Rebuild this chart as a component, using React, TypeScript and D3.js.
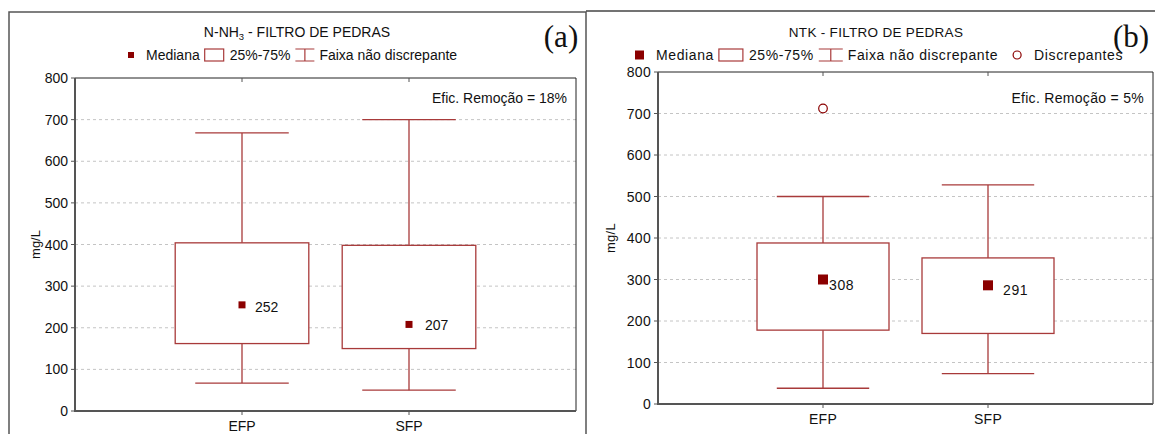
import * as d3 from "d3";

const categories = ["EFP", "SFP"];
const yTicks = [0, 100, 200, 300, 400, 500, 600, 700, 800];

// (a) N-NH3
const nh3Min = [67, 50];
const nh3Q1 = [162, 150];
const nh3Median = [255, 208];
const nh3MedianLabels = ["252", "207"];
const nh3Q3 = [404, 398];
const nh3Max = [668, 700];

// (b) NTK
const ntkMin = [38, 73];
const ntkQ1 = [178, 170];
const ntkMedian = [300, 286];
const ntkMedianLabels = ["308", "291"];
const ntkQ3 = [388, 352];
const ntkMax = [500, 528];
const ntkOutlierCats = ["EFP"];
const ntkOutlierValues = [712];

const RED = "#8b0000";
const BOX = "#a83a3a";
const FONT = "'Liberation Sans', Arial, sans-serif";

// rough Arial advance widths (em) for legend layout
const textWidth = (s: string, size: number, ls: number) => {
  const w: Record<string, number> = {
    M: 0.833, e: 0.556, d: 0.556, i: 0.222, a: 0.556, n: 0.556, "%": 0.889, "-": 0.333,
    F: 0.611, x: 0.5, " ": 0.278, "ã": 0.556, o: 0.556, s: 0.5, c: 0.5, r: 0.333, p: 0.556,
    t: 0.278, D: 0.722,
  };
  let sum = 0;
  for (const ch of s) sum += w[ch] ?? 0.556;
  return sum * size + ls * s.length;
};

type PanelProps = {
  left: number;
  right: number;
  top: number;
  bottom: number;
  spacing: number;
  fontSize: number;
  title: React.ReactNode;
  titleSize: number;
  titleSpacing: number;
  titleX: number;
  letter: string;
  letterX: number;
  efic: string;
  mins: number[];
  q1: number[];
  medians: number[];
  medianLabels: string[];
  labelDx: number[];
  labelDy: number[];
  q3: number[];
  maxs: number[];
  outlierCats?: string[];
  outlierValues?: number[];
  markerSize: number;
  legendX: number;
  iconW: number;
  showOutlierLegend?: boolean;
  yLabelX: number;
  xLabelY: number;
};

const Panel = (p: PanelProps) => {
  const x = d3.scaleLinear().domain([0, 3]).range([p.left, p.right]);
  const y = d3.scaleLinear().domain([0, 800]).range([p.bottom, p.top]);
  const pos = (c: string) => x(categories.indexOf(c) + 1);
  const boxHalf = (x(0.8) - x(0)) / 2;
  const capHalf = (x(0.56) - x(0)) / 2;
  const ls = p.spacing;
  const fs = p.fontSize;
  const ly = 55;
  const items: React.ReactNode[] = [];

  // legend
  let cx = p.legendX;
  items.push(
    <rect key="lm" x={cx} y={ly - p.markerSize / 2 + 0.5} width={p.markerSize - 1} height={p.markerSize - 1} fill={RED} />
  );
  cx += p.markerSize + 11;
  items.push(
    <text key="lmt" x={cx} y={ly} dominantBaseline="central" letterSpacing={ls}>
      Mediana
    </text>
  );
  cx += textWidth("Mediana", fs, ls) + 5;
  items.push(
    <rect key="lb" x={cx} y={ly - 6} width={p.iconW} height={12} fill="none" stroke={BOX} strokeWidth={1.2} />
  );
  cx += p.iconW + 6;
  items.push(
    <text key="lbt" x={cx} y={ly} dominantBaseline="central" letterSpacing={ls}>
      25%-75%
    </text>
  );
  cx += textWidth("25%-75%", fs, ls) + 5;
  items.push(
    <path
      key="lw"
      d={`M${cx},${ly - 6}H${cx + p.iconW}M${cx + p.iconW / 2},${ly - 6}V${ly + 6}M${cx},${ly + 6}H${cx + p.iconW}`}
      fill="none"
      stroke={BOX}
      strokeWidth={1.2}
    />
  );
  cx += p.iconW + 5;
  items.push(
    <text key="lwt" x={cx} y={ly} dominantBaseline="central" letterSpacing={ls}>
      Faixa não discrepante
    </text>
  );
  if (p.showOutlierLegend) {
    cx += textWidth("Faixa não discrepante", fs, ls) + 15;
    items.push(<circle key="lo" cx={cx + 4} cy={ly} r={4} fill="none" stroke={RED} strokeWidth={1.2} />);
    items.push(
      <text key="lot" x={cx + 21} y={ly} dominantBaseline="central" letterSpacing={ls}>
        Discrepantes
      </text>
    );
  }

  return (
    <g fontFamily={FONT} fontSize={fs} fill="#111">
      <text
        x={p.titleX}
        y={32}
        textAnchor="middle"
        dominantBaseline="central"
        letterSpacing={p.titleSpacing}
        fontSize={p.titleSize}
      >
        {p.title}
      </text>
      <text
        x={p.letterX}
        y={36}
        fontFamily="'Liberation Serif', 'Times New Roman', serif"
        fontSize={31}
        textAnchor="middle"
        dominantBaseline="central"
      >
        {p.letter}
      </text>
      {items}
      {/* grid */}
      {yTicks
        .filter((t) => t > 0 && t < 800)
        .map((t) => (
          <line key={`g${t}`} x1={p.left} x2={p.right} y1={y(t)} y2={y(t)} stroke="#c4c4c4" strokeDasharray="3,3" />
        ))}
      {/* frame */}
      <path d={`M${p.left},${p.top}H${p.right}V${p.bottom}`} fill="none" stroke="#222" strokeWidth={1} />
      <path d={`M${p.left},${p.top}V${p.bottom}H${p.right}`} fill="none" stroke="#555" strokeWidth={2} />
      {/* y ticks */}
      {yTicks.map((t) => (
        <g key={`t${t}`}>
          <line x1={p.left - 4} x2={p.left} y1={y(t)} y2={y(t)} stroke="#555" />
          <text x={p.left - 7} y={y(t)} textAnchor="end" dominantBaseline="central" letterSpacing={ls * 0.5}>
            {t}
          </text>
        </g>
      ))}
      <text
        transform={`translate(${p.yLabelX},${y(400)}) rotate(-90)`}
        textAnchor="middle"
        dominantBaseline="central"
        fontSize={13}
        letterSpacing={ls * 0.5}
      >
        mg/L
      </text>
      {/* x ticks & labels */}
      {categories.map((c) => (
        <g key={`x${c}`}>
          <line x1={pos(c)} x2={pos(c)} y1={p.bottom} y2={p.bottom + 4} stroke="#555" />
          <line x1={pos(c)} x2={pos(c)} y1={p.top} y2={p.top + 4} stroke="#555" />
          <text x={pos(c)} y={p.xLabelY} textAnchor="middle" dominantBaseline="central" letterSpacing={ls * 0.5}>
            {c}
          </text>
        </g>
      ))}
      {/* boxes */}
      {categories.map((c, i) => {
        const cxp = pos(c);
        return (
          <g key={`b${c}`} stroke={BOX} strokeWidth={1.3} fill="none">
            <line x1={cxp} x2={cxp} y1={y(p.q3[i])} y2={y(p.maxs[i])} />
            <line x1={cxp} x2={cxp} y1={y(p.q1[i])} y2={y(p.mins[i])} />
            <line x1={cxp - capHalf} x2={cxp + capHalf} y1={y(p.maxs[i])} y2={y(p.maxs[i])} />
            <line x1={cxp - capHalf} x2={cxp + capHalf} y1={y(p.mins[i])} y2={y(p.mins[i])} />
            <rect
              x={cxp - boxHalf}
              y={y(p.q3[i])}
              width={boxHalf * 2}
              height={y(p.q1[i]) - y(p.q3[i])}
              fill="#fff"
            />
            <rect
              x={cxp - p.markerSize / 2}
              y={y(p.medians[i]) - p.markerSize / 2}
              width={p.markerSize}
              height={p.markerSize}
              fill={RED}
              stroke="none"
            />
            <text
              x={cxp + p.labelDx[i]}
              y={y(p.medians[i]) + p.labelDy[i]}
              dominantBaseline="central"
              fill="#111"
              stroke="none"
              letterSpacing={ls}
            >
              {p.medianLabels[i]}
            </text>
          </g>
        );
      })}
      {(p.outlierCats || []).map((c, i) => (
        <circle
          key={`o${i}`}
          cx={pos(c)}
          cy={y(p.outlierValues![i])}
          r={4.3}
          fill="none"
          stroke={RED}
          strokeWidth={1.2}
        />
      ))}
      <text x={p.right - 9} y={98} textAnchor="end" dominantBaseline="central" letterSpacing={ls * 0.5}>
        {p.efic}
      </text>
    </g>
  );
};

export default function App() {
  return (
    <svg
      width={1155}
      height={434}
      style={{ position: "absolute", left: 0, top: 0, background: "#fff", display: "block" }}
    >
      <rect x={0} y={0} width={1155} height={434} fill="#fff" />
      {/* panel borders */}
      <path d="M9,434V12H586V434" fill="none" stroke="#555" strokeWidth={1.5} />
      <path d="M586,11H1160" fill="none" stroke="#444" strokeWidth={1.5} />
      <Panel
        left={75}
        right={576}
        top={78}
        bottom={411}
        spacing={0}
        fontSize={14}
        title={
          <>
            N-NH<tspan fontSize={9.5} dy={4}>3</tspan>
            <tspan dy={-4}> - FILTRO DE PEDRAS</tspan>
          </>
        }
        titleSize={14}
        titleSpacing={0}
        titleX={297}
        letter="(a)"
        letterX={561}
        efic="Efic. Remoção = 18%"
        mins={nh3Min}
        q1={nh3Q1}
        medians={nh3Median}
        medianLabels={nh3MedianLabels}
        labelDx={[13, 16]}
        labelDy={[2, 1]}
        q3={nh3Q3}
        maxs={nh3Max}
        markerSize={7}
        legendX={128}
        iconW={19}
        yLabelX={35}
        xLabelY={426}
      />
      <Panel
        left={658}
        right={1153}
        top={72}
        bottom={404}
        spacing={0.6}
        fontSize={14}
        title="NTK - FILTRO DE PEDRAS"
        titleSize={13.5}
        titleSpacing={0.3}
        titleX={876}
        letter="(b)"
        letterX={1131}
        efic="Efic. Remoção = 5%"
        mins={ntkMin}
        q1={ntkQ1}
        medians={ntkMedian}
        medianLabels={ntkMedianLabels}
        labelDx={[6, 15]}
        labelDy={[5, 5]}
        q3={ntkQ3}
        maxs={ntkMax}
        outlierCats={ntkOutlierCats}
        outlierValues={ntkOutlierValues}
        markerSize={10}
        legendX={635}
        iconW={24}
        showOutlierLegend
        yLabelX={610}
        xLabelY={419}
      />
    </svg>
  );
}
